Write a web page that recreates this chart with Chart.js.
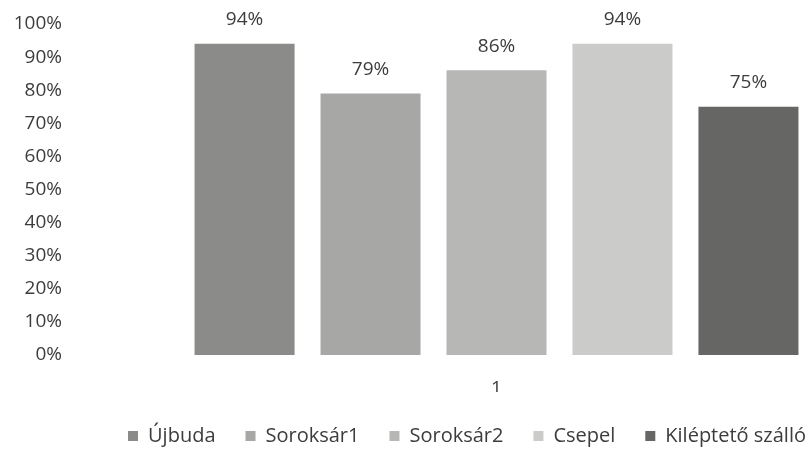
<!DOCTYPE html>
<html><head><meta charset="utf-8">
<script src="https://cdn.jsdelivr.net/npm/chart.js@4/dist/chart.umd.min.js"></script>
<style>html,body{margin:0;padding:0;background:#fff}#wrap{width:808px;height:452px;position:relative}</style>
</head><body><div id="wrap"><canvas id="c"></canvas></div>
<script>
const categories = ['1'];
const seriesNames = ['Újbuda', 'Soroksár1', 'Soroksár2', 'Csepel', 'Kiléptető szálló'];
const ujbuda = [94];
const soroksar1 = [79];
const soroksar2 = [86];
const csepel = [94];
const kileptetoSzallo = [75];
const yTickValues = [0, 10, 20, 30, 40, 50, 60, 70, 80, 90, 100];

const seriesValues = [ujbuda, soroksar1, soroksar2, csepel, kileptetoSzallo];
const seriesColors = ['#8b8b89', '#a7a7a5', '#b7b7b5', '#cbcbca', '#666664'];
const FONT = '"Open Sans", sans-serif';
const TXT = '#3c3c3c';

const labelPlugin = {
  id: 'barLabels',
  afterLayout(chart) {
    // shift the legend row to where the reference has it
    chart.legend.left += 63;
    chart.legend.right += 63;
    chart.legend.top += 4;
    chart.legend.bottom += 4;
  },
  afterDatasetsDraw(chart) {
    const ctx = chart.ctx;
    ctx.save();
    ctx.font = '19px ' + FONT;
    ctx.fillStyle = TXT;
    ctx.textAlign = 'center';
    ctx.textBaseline = 'middle';
    chart.data.datasets.forEach((ds, i) => {
      const meta = chart.getDatasetMeta(i);
      meta.data.forEach((el, j) => {
        ctx.fillText(ds.data[j] + '%', el.x, el.y - 24);
      });
    });
    ctx.restore();
  }
};

new Chart(document.getElementById('c'), {
  type: 'bar',
  data: {
    labels: categories,
    datasets: seriesNames.map((n, i) => ({
      label: n,
      data: seriesValues[i],
      backgroundColor: seriesColors[i],
      borderWidth: 0,
      categoryPercentage: 1.011,
      barPercentage: 0.794
    }))
  },
  options: {
    responsive: true,
    maintainAspectRatio: false,
    animation: false,
    layout: { padding: { top: 24, left: 0, right: 0, bottom: 0 } },
    plugins: {
      legend: {
        position: 'bottom',
        labels: {
          font: { family: FONT, size: 20 },
          color: TXT,
          boxWidth: 10,
          boxHeight: 10,
          padding: 30
        }
      },
      tooltip: { enabled: false }
    },
    scales: {
      x: {
        grid: { display: false, drawTicks: false },
        border: { display: false },
        ticks: { font: { family: FONT, size: 19 }, color: TXT, padding: 22 },
        afterFit(s) { s.height = 37; s.paddingLeft = 0; s.paddingRight = 0; }
      },
      y: {
        min: 0, max: 100,
        afterBuildTicks(s) { s.ticks = yTickValues.map(v => ({ value: v })); },
        grid: { display: false, drawTicks: false },
        border: { display: false },
        ticks: { font: { family: FONT, size: 19 }, color: TXT, padding: 123, autoSkip: false, callback: v => v + '%' },
        afterFit(s) { s.width = 185; s.paddingTop = 0; s.paddingBottom = 0; }
      }
    }
  },
  plugins: [labelPlugin]
});
</script></body></html>
